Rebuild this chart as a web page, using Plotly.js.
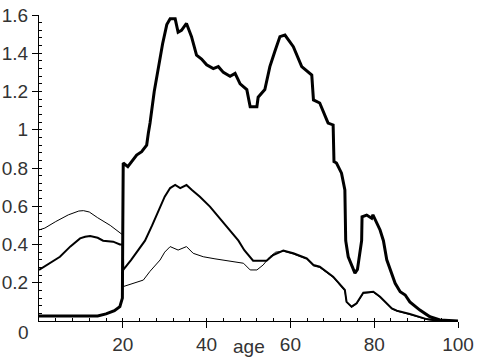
<!DOCTYPE html>
<html>
<head>
<meta charset="utf-8">
<script src="https://cdn.plot.ly/plotly-3.0.1.min.js"></script>
<style>html,body{margin:0;padding:0;background:#fff}#chart{width:480px;height:360px}</style>
</head>
<body>
<div id="chart"></div>
<script>
var thickAge = [0,14,16,18,19.3,19.9,20,20.1,21.2,22.1,23.3,24.5,25.7,26.1,26.5,27.5,28.5,29.5,30.5,31.3,32.5,33.2,34,35.2,36.4,37.6,38.8,40,41.6,42.8,44,45.6,46.8,48,49.6,50.4,52,52.3,53.9,55.1,56.3,57.5,58.7,60.7,62.7,65.1,65.5,67,68.7,69,70.2,70.4,71,72.2,73,73.2,73.8,75,75.4,76,76.6,77,77.1,78.2,79.4,79.7,81.4,82.2,83,85,86.2,87.4,88.5,90.9,93.3,95.7,100];
var thickVal = [0.026,0.026,0.037,0.054,0.075,0.12,0.5,0.826,0.807,0.833,0.868,0.885,0.92,0.983,1.035,1.2,1.33,1.45,1.55,1.58,1.58,1.51,1.52,1.556,1.487,1.39,1.37,1.34,1.32,1.33,1.3,1.28,1.295,1.24,1.21,1.12,1.12,1.17,1.21,1.33,1.41,1.487,1.495,1.434,1.33,1.286,1.156,1.14,1.05,1.035,1.025,0.833,0.826,0.773,0.685,0.42,0.336,0.267,0.25,0.27,0.354,0.42,0.545,0.554,0.537,0.555,0.476,0.42,0.32,0.197,0.153,0.136,0.1,0.057,0.022,0.005,0];

var medAge = [0,2.5,5,7.5,9,9.8,11,12.2,14,15.3,17.7,19.3,20,20.1,22,25.3,27,28.9,30,31.3,32.5,33.7,35.2,36.5,38.4,40.8,42.8,44.8,47.6,49,50.4,51.1,54.3,55.9,58.3,60.7,63.9,65.5,67,70.2,73,73.4,74.6,75.8,77.4,79.8,81.4,84.2,85.4,88.5,92.5,95.7,100];
var medVal = [0.267,0.3,0.336,0.39,0.415,0.432,0.44,0.444,0.435,0.42,0.415,0.4,0.4,0.267,0.32,0.42,0.5,0.59,0.65,0.695,0.711,0.695,0.711,0.685,0.65,0.598,0.545,0.493,0.42,0.37,0.336,0.315,0.315,0.345,0.368,0.354,0.328,0.293,0.284,0.232,0.162,0.1,0.075,0.092,0.148,0.153,0.127,0.066,0.054,0.037,0.01,0,0];

var thinAge = [0,1.4,4,7,9.5,10.6,12,14,17,19.7,20,20.1,22,24.9,26.5,28.9,30,31.3,33.2,35.2,36.8,39.2,42,44.8,48.8,50.4,52,53.5,55.1,56.5,58.3,60.7,63.9,65.5,67,70.2,73,73.4,74.6,75.8,77.4,79.8,81.4,84.2,85.4,88.5,92.5,95.7,100];
var thinVal = [0.476,0.486,0.52,0.555,0.575,0.577,0.57,0.54,0.5,0.459,0.45,0.18,0.195,0.214,0.26,0.319,0.36,0.389,0.371,0.389,0.354,0.336,0.325,0.315,0.302,0.267,0.267,0.293,0.336,0.36,0.365,0.35,0.323,0.288,0.28,0.228,0.158,0.097,0.072,0.089,0.145,0.15,0.124,0.063,0.051,0.034,0.008,0,0];

var xTickVals = [20,40,60,80,100];
var xTickText = ["20","40","60","80","100"];
var yTickVals = [0.2,0.4,0.6,0.8,1,1.2,1.4,1.6];
var yTickText = ["0.2","0.4","0.6","0.8","1","1.2","1.4","1.6"];
var xMinorStep = 4;
var yMinorStep = 0.04;

var font = {family: "Liberation Sans, Arial, sans-serif", size: 19, color: "#333"};

var traces = [
  {x: thinAge, y: thinVal, mode: "lines", line: {color: "#000", width: 1}, hoverinfo: "skip"},
  {x: medAge, y: medVal, mode: "lines", line: {color: "#000", width: 2}, hoverinfo: "skip"},
  {x: thickAge, y: thickVal, mode: "lines", line: {color: "#000", width: 3}, hoverinfo: "skip"},
  {x: [], y: [], xaxis: "x2", yaxis: "y2", mode: "lines", hoverinfo: "skip"}
];

var minorAxis = {showgrid: false, zeroline: false, showline: false, showticklabels: false,
  ticks: "inside", ticklen: 3, tickcolor: "#000", tickwidth: 1, tickmode: "linear", tick0: 0};

var layout = {
  width: 480, height: 360,
  margin: {l: 39, r: 22, t: 15, b: 39, pad: 0},
  paper_bgcolor: "#fff", plot_bgcolor: "#fff",
  showlegend: false,
  font: font,
  xaxis: {
    range: [0, 100], showgrid: false, zeroline: false,
    showline: true, linecolor: "#000", linewidth: 1,
    tickmode: "array", tickvals: xTickVals, ticktext: xTickText,
    ticks: "outside", ticklen: 6, tickcolor: "#000", tickwidth: 1,
    tickfont: font
  },
  yaxis: {
    range: [0, 1.6], showgrid: false, zeroline: false,
    showline: true, linecolor: "#000", linewidth: 1,
    tickmode: "array", tickvals: yTickVals, ticktext: yTickText,
    ticks: "outside", ticklen: 6, tickcolor: "#000", tickwidth: 1,
    tickfont: font
  },
  xaxis2: Object.assign({}, minorAxis, {range: [0, 100], dtick: xMinorStep, overlaying: "x", anchor: "y", side: "bottom"}),
  yaxis2: Object.assign({}, minorAxis, {range: [0, 1.6], dtick: yMinorStep, overlaying: "y", anchor: "x", side: "left"}),
  annotations: [
    {text: "age", xref: "x", yref: "paper", x: 50, y: 0, xanchor: "center", yanchor: "middle", yshift: -25, showarrow: false, font: font},
    {text: "0", xref: "paper", yref: "paper", x: 0, y: 0, xanchor: "right", yanchor: "middle", xshift: -8, yshift: -11, showarrow: false, font: font}
  ]
};

Plotly.newPlot("chart", traces, layout, {staticPlot: true, displayModeBar: false});
</script>
</body>
</html>
